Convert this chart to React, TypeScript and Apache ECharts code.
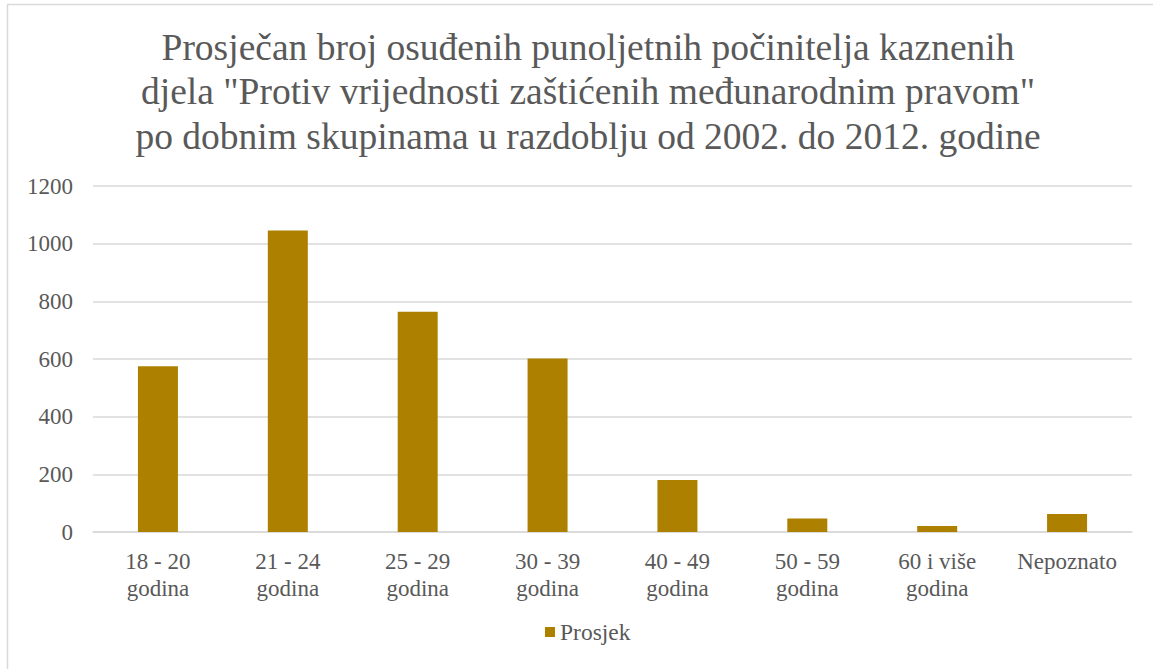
import React, { useEffect, useRef } from "react";
import * as echarts from "echarts";

const categories = [
  "18 - 20\ngodina",
  "21 - 24\ngodina",
  "25 - 29\ngodina",
  "30 - 39\ngodina",
  "40 - 49\ngodina",
  "50 - 59\ngodina",
  "60 i više\ngodina",
  "Nepoznato",
];
const prosjek = [575, 1046, 764, 602, 180, 47, 21, 62];
const titleText =
  'Prosječan broj osuđenih punoljetnih počinitelja kaznenih\ndjela "Protiv vrijednosti zaštićenih međunarodnim pravom"\npo dobnim skupinama u razdoblju od 2002. do 2012. godine';

const FONT = "Liberation Serif";
const TEXT = "#595959";

export default function App() {
  const ref = useRef<HTMLDivElement>(null);
  useEffect(() => {
    const chart = echarts.init(ref.current!, null, { renderer: "svg" });
    chart.setOption({
      animation: false,
      backgroundColor: "#ffffff",
      textStyle: { fontFamily: FONT },
      graphic: [
        {
          type: "rect",
          shape: { x: 7.5, y: 4.5, width: 1200, height: 700 },
          style: { fill: "none", stroke: "#d9d9d9", lineWidth: 1.5 },
          silent: true,
        },
      ],
      title: {
        text: titleText,
        left: 583,
        top: 20,
        textAlign: "center",
        textStyle: {
          fontFamily: FONT,
          fontSize: 37.5,
          lineHeight: 44.5,
          fontWeight: "normal",
          color: TEXT,
        },
      },
      legend: {
        data: ["Prosjek"],
        left: 545,
        top: 620,
        itemWidth: 10,
        itemHeight: 10,
        itemGap: 5,
        icon: "rect",
        textStyle: { fontFamily: FONT, fontSize: 23.5, color: TEXT, padding: [0, 0, 0, 0] },
        padding: 0,
      },
      grid: { left: 93, right: 21, top: 186, bottom: 137, containLabel: false },
      xAxis: {
        type: "category",
        data: categories,
        axisLine: { lineStyle: { color: "#d9d9d9", width: 1.5 } },
        axisTick: { show: false },
        axisLabel: {
          fontFamily: FONT,
          fontSize: 23,
          lineHeight: 27,
          color: TEXT,
          margin: 16,
          interval: 0,
        },
      },
      yAxis: {
        type: "value",
        min: 0,
        max: 1200,
        interval: 200,
        axisLine: { show: false },
        axisTick: { show: false },
        splitLine: { lineStyle: { color: "#d9d9d9", width: 1.5 } },
        axisLabel: {
          fontFamily: FONT,
          fontSize: 23,
          color: TEXT,
          margin: 20,
          formatter: (v: number) => String(v),
        },
      },
      series: [
        {
          name: "Prosjek",
          type: "bar",
          data: prosjek,
          barWidth: 40,
          itemStyle: { color: "#AD8000" },
        },
      ],
    });
    return () => chart.dispose();
  }, []);
  return (
    <div
      ref={ref}
      style={{ position: "absolute", left: 0, top: 0, width: 1153, height: 669 }}
    />
  );
}
